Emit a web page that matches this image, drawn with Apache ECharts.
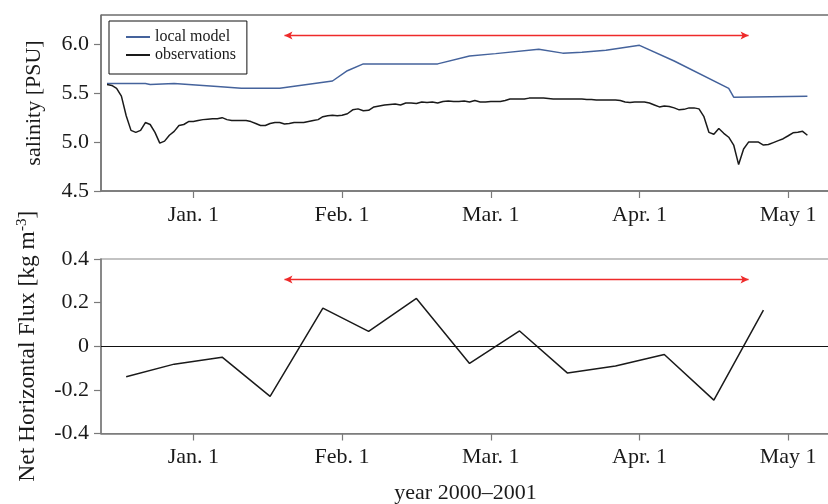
<!DOCTYPE html>
<html>
<head>
<meta charset="utf-8">
<script src="https://cdn.jsdelivr.net/npm/echarts@6.0.0/dist/echarts.min.js"></script>
<style>
html, body { margin: 0; padding: 0; background: #fff; }
#chart { width: 828px; height: 504px; }
</style>
</head>
<body>
<div id="chart"></div>
<script>
// x axis: one unit per month, Jan. 1 2001 = 0 (months are drawn equally wide)
const monthTicks = [0, 1, 2, 3, 4];
const monthLabels = ['Jan. 1', 'Feb. 1', 'Mar. 1', 'Apr. 1', 'May 1'];
const salinityTicks = [4.5, 5.0, 5.5, 6.0];
const fluxTicks = [-0.4, -0.2, 0, 0.2, 0.4];

// local model salinity
const modelDates = ['2000-12-14', '2000-12-22', '2000-12-23', '2000-12-28', '2001-01-06', '2001-01-11',
  '2001-01-19', '2001-01-30', '2001-02-02', '2001-02-05', '2001-02-19', '2001-02-25', '2001-03-02',
  '2001-03-11', '2001-03-16', '2001-03-20', '2001-03-25', '2001-04-01', '2001-04-08', '2001-04-19',
  '2001-04-20', '2001-05-05'];
const modelSalinity = [5.60, 5.60, 5.59, 5.60, 5.57, 5.55, 5.55, 5.625, 5.73, 5.80, 5.80, 5.88, 5.905,
  5.95, 5.91, 5.92, 5.94, 5.99, 5.83, 5.55, 5.46, 5.47];

// observed salinity, one value per day from obsStart
const obsStart = '2000-12-14';
const obsSalinity = [
  // Dec 14 - 31
  5.59, 5.58, 5.55, 5.47, 5.27, 5.12, 5.10, 5.12, 5.20, 5.18, 5.10, 4.99, 5.01, 5.07, 5.11, 5.17, 5.18, 5.21,
  // Jan
  5.21, 5.22, 5.23, 5.235, 5.24, 5.24, 5.25, 5.23, 5.22, 5.22, 5.22, 5.22, 5.21, 5.19, 5.17, 5.17,
  5.19, 5.20, 5.20, 5.185, 5.19, 5.20, 5.20, 5.20, 5.21, 5.22, 5.23, 5.26, 5.27, 5.275, 5.27,
  // Feb
  5.275, 5.29, 5.33, 5.34, 5.32, 5.325, 5.36, 5.37, 5.38, 5.385, 5.39, 5.38, 5.40, 5.40, 5.395, 5.41,
  5.405, 5.41, 5.40, 5.415, 5.42, 5.415, 5.415, 5.42, 5.41, 5.425, 5.41, 5.41,
  // Mar
  5.415, 5.415, 5.415, 5.425, 5.44, 5.44, 5.44, 5.44, 5.45, 5.45, 5.45, 5.45, 5.445, 5.44, 5.44, 5.44,
  5.44, 5.44, 5.44, 5.44, 5.435, 5.435, 5.43, 5.43, 5.43, 5.43, 5.43, 5.425, 5.41, 5.405, 5.41,
  // Apr
  5.41, 5.41, 5.40, 5.38, 5.36, 5.37, 5.365, 5.35, 5.33, 5.335, 5.35, 5.35, 5.34, 5.26, 5.10, 5.08,
  5.14, 5.09, 5.05, 4.97, 4.77, 4.93, 5.00, 5.00, 5.00, 4.97, 4.975, 4.995, 5.015, 5.035,
  // May 1 - 5
  5.065, 5.095, 5.10, 5.11, 5.07
];

// net horizontal flux
const fluxDates = ['2000-12-18', '2000-12-28', '2001-01-07', '2001-01-17', '2001-01-28', '2001-02-06',
  '2001-02-15', '2001-02-25', '2001-03-07', '2001-03-17', '2001-03-27', '2001-04-06', '2001-04-16',
  '2001-04-26'];
const fluxValues = [-0.14, -0.082, -0.05, -0.23, 0.175, 0.068, 0.219, -0.079, 0.07, -0.123, -0.091,
  -0.038, -0.247, 0.166];

// red double arrows (period marked in both panels)
const arrowFrom = '2001-01-20';
const arrowTo = '2001-04-23';
const arrowSalinity = 6.09;
const arrowFlux = 0.306;

const font = 'Liberation Serif';
const textColor = '#1a1a1a';
const axisGray = '#7a7a7a';
const arrowRed = '#ee2a2a';

function monthPos(s) {
  const [y, m, d] = s.split('-').map(Number);
  const dim = new Date(y, m, 0).getDate();
  return (y - 2001) * 12 + (m - 1) + (d - 1) / dim;
}

function obsDates() {
  const [y, m, d] = obsStart.split('-').map(Number);
  const t0 = Date.UTC(y, m - 1, d);
  return obsSalinity.map((_, i) => {
    const dt = new Date(t0 + i * 86400000);
    return dt.getUTCFullYear() + '-' + (dt.getUTCMonth() + 1) + '-' + dt.getUTCDate();
  });
}

const modelData = modelDates.map((s, i) => [monthPos(s), modelSalinity[i]]);
const obsData = obsDates().map((s, i) => [monthPos(s), obsSalinity[i]]);
const fluxData = fluxDates.map((s, i) => [monthPos(s), fluxValues[i]]);

// one double arrow as a markLine pair
function arrowPair(y) {
  return [
    { coord: [monthPos(arrowFrom), y], symbol: 'arrow', symbolSize: [6, 8] },
    { coord: [monthPos(arrowTo), y], symbol: 'arrow', symbolSize: [6, 8] }
  ];
}

function xAxis(gridIndex, extra) {
  return Object.assign({
    type: 'value',
    gridIndex: gridIndex,
    min: -0.621,
    max: 4.281,
    splitLine: { show: false },
    axisLine: { show: true, onZero: false, lineStyle: { color: axisGray, width: 1.5 } },
    axisTick: { show: true, customValues: monthTicks, length: 7, lineStyle: { color: axisGray, width: 1.2 } },
    axisLabel: {
      customValues: monthTicks,
      margin: 13,
      formatter: v => monthLabels[Math.round(v)],
      fontFamily: font, fontSize: 22, color: textColor
    }
  }, extra || {});
}

function yAxis(gridIndex, min, max, ticks, fmt, extra) {
  return Object.assign({
    type: 'value',
    gridIndex: gridIndex,
    min: min,
    max: max,
    splitLine: { show: false },
    axisLine: { show: true, onZero: false, lineStyle: { color: axisGray, width: 1.5 } },
    axisTick: { show: true, customValues: ticks, length: 7, lineStyle: { color: axisGray, width: 1.2 } },
    axisLabel: {
      customValues: ticks,
      margin: 12,
      formatter: fmt,
      fontFamily: font, fontSize: 22, color: textColor
    },
    nameLocation: 'middle',
    nameRotate: 90,
    nameTextStyle: { fontFamily: font, fontSize: 22, color: textColor }
  }, extra || {});
}

const chart = echarts.init(document.getElementById('chart'));
chart.setOption({
  animation: false,
  backgroundColor: '#fff',
  grid: [
    { left: 101, right: -2, top: 15, height: 176, outerBoundsMode: 'none',
      show: true, borderColor: '#222', borderWidth: 1 },
    { left: 101, right: -2, top: 259, height: 174.5, outerBoundsMode: 'none',
      show: true, borderColor: '#888', borderWidth: 1.2 }
  ],
  legend: {
    data: ['local model', 'observations'],
    orient: 'vertical',
    left: 109,
    top: 21,
    padding: [7, 11, 10, 17],
    borderColor: '#111',
    borderWidth: 1,
    itemGap: 0,
    itemWidth: 24,
    itemHeight: 2,
    icon: 'rect',
    textStyle: { fontFamily: font, fontSize: 16, color: textColor, lineHeight: 18 }
  },
  xAxis: [
    xAxis(0),
    xAxis(1, {
      name: 'year 2000\u20132001',
      nameLocation: 'middle',
      nameGap: 49,
      nameTextStyle: { fontFamily: font, fontSize: 22, color: textColor }
    })
  ],
  yAxis: [
    yAxis(0, 4.5, 6.3, salinityTicks, v => v.toFixed(1), {
      name: 'salinity [PSU]',
      nameGap: 56
    }),
    yAxis(1, -0.4, 0.4, fluxTicks, v => (Math.abs(v) < 1e-9 ? '0' : v.toFixed(1)), {
      name: 'Net Horizontal Flux [kg m{sup|-3}]',
      nameGap: 60,
      nameTextStyle: {
        fontFamily: font, fontSize: 23.5, color: textColor,
        rich: { sup: { fontFamily: font, fontSize: 15, color: textColor, verticalAlign: 'top', lineHeight: 26 } }
      }
    })
  ],
  series: [
    {
      name: 'local model',
      type: 'line',
      xAxisIndex: 0, yAxisIndex: 0,
      symbol: 'none',
      color: '#45639c',
      lineStyle: { color: '#45639c', width: 1.5 },
      data: modelData,
      markLine: {
        silent: true,
        symbol: ['none', 'none'],
        label: { show: false },
        lineStyle: { color: arrowRed, width: 1.3, type: 'solid', opacity: 1 },
        data: [arrowPair(arrowSalinity)]
      }
    },
    {
      name: 'observations',
      type: 'line',
      xAxisIndex: 0, yAxisIndex: 0,
      symbol: 'none',
      color: '#1a1a1a',
      lineStyle: { color: '#1a1a1a', width: 1.5 },
      data: obsData
    },
    {
      name: 'flux',
      type: 'line',
      xAxisIndex: 1, yAxisIndex: 1,
      symbol: 'none',
      color: '#1a1a1a',
      lineStyle: { color: '#1a1a1a', width: 1.5 },
      data: fluxData,
      markLine: {
        silent: true,
        symbol: ['none', 'none'],
        label: { show: false },
        lineStyle: { color: arrowRed, width: 1.3, type: 'solid', opacity: 1 },
        data: [
          { yAxis: 0, lineStyle: { color: '#111', width: 1.2, type: 'solid' } },
          arrowPair(arrowFlux)
        ]
      }
    }
  ]
});
</script>
</body>
</html>
